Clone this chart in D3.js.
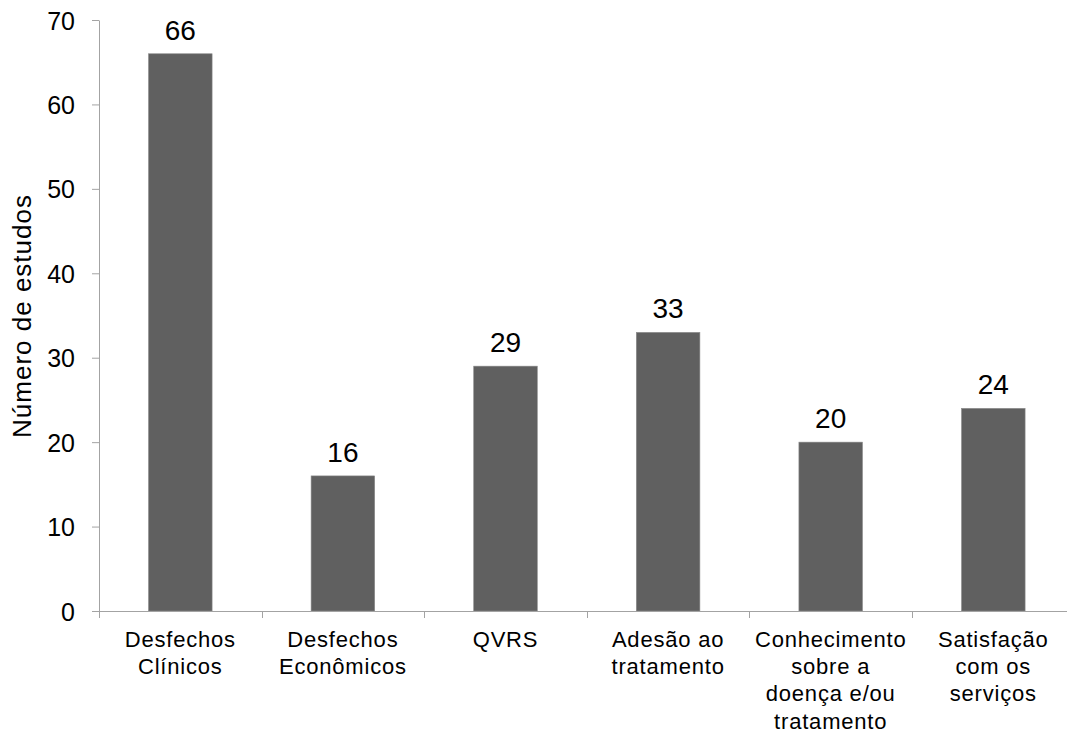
<!DOCTYPE html>
<html>
<head>
<meta charset="utf-8">
<script src="https://cdn.jsdelivr.net/npm/d3@7"></script>
<style>
  html, body { margin: 0; padding: 0; background: #fff; }
  svg { display: block; font-family: "Liberation Sans", Arial, sans-serif; }
</style>
</head>
<body>
<svg id="chart" width="1067" height="733"></svg>
<script>
// Study outcome categories (label lines) and number of studies for each
const categories = [
  ["Desfechos", "Clínicos"],
  ["Desfechos", "Econômicos"],
  ["QVRS"],
  ["Adesão ao", "tratamento"],
  ["Conhecimento", "sobre a", "doença e/ou", "tratamento"],
  ["Satisfação", "com os", "serviços"]
];
const values = [66, 16, 29, 33, 20, 24];
const yTicks = [0, 10, 20, 30, 40, 50, 60, 70];
const yTitle = "Número de estudos";

const svg = d3.select("#chart");
const keys = categories.map(c => c.join(" "));

const plotLeft = 99, plotBottom = 611, plotTop = 20, bandStep = 162.6;
const axisColor = "#a3a3a3";

const x = d3.scaleBand()
  .domain(keys)
  .range([plotLeft, plotLeft + bandStep * keys.length])
  .paddingInner(0.609)
  .paddingOuter(0.3045);

const y = d3.scaleLinear().domain([0, 70]).range([plotBottom, plotTop]);

// Bars
svg.append("g").selectAll("rect")
  .data(values)
  .join("rect")
  .attr("x", (d, i) => x(keys[i]))
  .attr("y", d => y(d))
  .attr("width", x.bandwidth())
  .attr("height", d => y(0) - y(d))
  .attr("fill", "#606060")
  .attr("stroke", "#8a8a8a")
  .attr("stroke-width", 0.6);

// Value labels above bars
svg.append("g").selectAll("text")
  .data(values)
  .join("text")
  .attr("x", (d, i) => x(keys[i]) + x.bandwidth() / 2)
  .attr("y", d => y(d) - 14)
  .attr("text-anchor", "middle")
  .attr("font-size", 28)
  .attr("fill", "#000")
  .text(d => d);

// Y axis
const yAxis = svg.append("g")
  .attr("transform", `translate(${plotLeft},0)`)
  .call(d3.axisLeft(y).tickValues(yTicks).tickSize(7).tickSizeOuter(0).tickPadding(17));
yAxis.select(".domain").attr("stroke", axisColor);
yAxis.selectAll(".tick line").attr("stroke", axisColor);
yAxis.selectAll(".tick text")
  .attr("font-size", 25)
  .attr("font-family", "Liberation Sans, Arial, sans-serif")
  .attr("fill", "#000")
  .attr("dy", "0.36em");

// X axis baseline and category boundary ticks
const boundaries = d3.range(keys.length + 1).map(i => plotLeft + i * x.step());
svg.append("line")
  .attr("x1", plotLeft).attr("x2", 1067)
  .attr("y1", plotBottom + 0.5).attr("y2", plotBottom + 0.5)
  .attr("stroke", axisColor);
svg.append("g").selectAll("line")
  .data(boundaries)
  .join("line")
  .attr("x1", d => Math.round(d) + 0.5).attr("x2", d => Math.round(d) + 0.5)
  .attr("y1", plotBottom).attr("y2", plotBottom + 7)
  .attr("stroke", axisColor);

// Category labels
const labels = svg.append("g").selectAll("text")
  .data(categories)
  .join("text")
  .attr("text-anchor", "middle")
  .attr("font-size", 22)
  .attr("letter-spacing", 0.8)
  .attr("fill", "#000");
labels.selectAll("tspan")
  .data((d, i) => d.map(line => ({ line, i })))
  .join("tspan")
  .attr("x", d => x(keys[d.i]) + x.bandwidth() / 2)
  .attr("y", (d, j) => 647 + j * 27.2)
  .text(d => d.line);

// Y axis title
svg.append("text")
  .attr("transform", "translate(31,316) rotate(-90)")
  .attr("text-anchor", "middle")
  .attr("font-size", 26)
  .attr("letter-spacing", 1)
  .attr("fill", "#000")
  .text(yTitle);
</script>
</body>
</html>
